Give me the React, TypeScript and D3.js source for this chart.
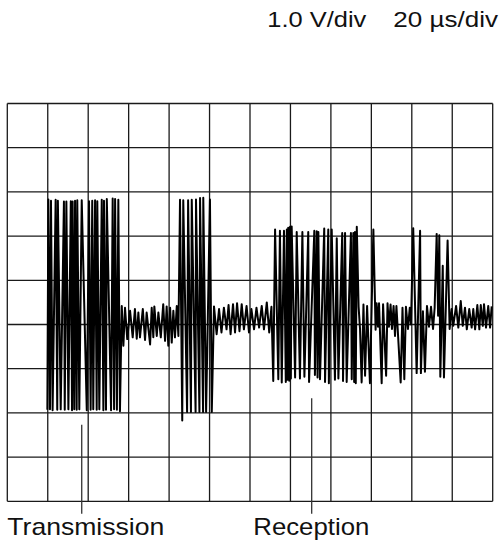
import { useEffect, useRef } from 'react';
import * as d3 from 'd3';

// screen divisions: 20 µs/div horizontally, 1.0 V/div vertically
const TIME_DIVS = [0, 20, 40, 60, 80, 100, 120, 140, 160, 180, 200, 220, 240];
const VOLT_DIVS = [5, 4, 3, 2, 1, 0, -1, -2, -3, -4];

// trace pieces, [µs, V]
const burstTx1: [number, number][] = [
  [19.8, -1.93], [20.3, 2.83], [21.1, -1.92], [21.6, 2.8], [22.4, -1.94], [23.9, 2.82],
  [24.7, -1.93], [25.0, 2.8], [26.4, -1.92], [28.0, 2.78], [28.4, -1.93], [29.2, 2.78],
  [30.2, -1.92], [31.4, 2.79], [32.0, -1.94], [32.3, 2.78], [33.1, -1.92], [33.5, 2.8],
  [34.3, -1.93], [34.6, 2.81], [35.6, -1.92], [36.8, 2.81], [39.3, -1.94], [40.4, 2.79],
  [41.2, -1.93], [42.0, 2.8], [42.5, -1.92], [43.4, 2.81], [44.2, -1.93], [44.5, 2.79],
  [45.5, -1.92], [46.7, 2.82], [47.5, -1.94], [47.8, 2.8], [48.8, -1.93], [49.2, 2.84],
  [51.3, -1.94], [52.1, 2.85], [52.8, -1.92], [53.3, 2.84], [54.2, -1.93], [54.9, 2.82],
  [55.7, -1.96],
];

const noiseGap1: [number, number][] = [
  [56.6, 0.42], [57.4, -0.48], [58.2, 0.38], [59.3, -0.33], [60.7, 0.31], [62.0, -0.29],
  [63.1, 0.35], [64.0, -0.32], [64.8, 0.27], [65.6, -0.29], [67.0, 0.35], [68.1, -0.35],
  [68.9, 0.27], [70.6, -0.45], [71.4, 0.38], [72.2, -0.29], [72.7, 0.41], [73.9, -0.26],
  [74.7, 0.27], [75.9, -0.29], [77.1, 0.46], [78.0, -0.37], [78.8, 0.41], [79.6, -0.48],
  [80.5, 0.38], [81.3, -0.41], [82.1, 0.31], [82.9, -0.29], [83.8, 0.42], [84.6, -0.26],
];

const burstTx2: [number, number][] = [
  [85.4, 2.82], [86.5, -2.17], [87.0, 2.81], [88.9, -1.98], [89.4, 2.81], [90.8, -1.98],
  [91.2, 2.82], [93.1, -1.98], [93.3, 2.83], [95.0, -1.98], [95.3, 2.86], [96.8, -1.98],
  [96.9, 2.87], [98.3, -1.98], [100.2, 2.83], [101.1, -1.98],
];

const noiseGap2: [number, number][] = [
  [102.2, 0.41], [103.5, -0.22], [104.7, 0.35], [105.9, -0.18], [107.1, 0.38], [108.4, -0.11],
  [109.4, 0.44], [110.4, -0.22], [111.6, 0.46], [112.6, -0.18], [113.6, 0.48], [114.8, -0.15],
  [115.9, 0.46], [117.0, -0.11], [118.3, 0.42], [119.5, -0.18], [120.7, 0.35], [122.0, -0.11],
  [123.2, 0.38], [124.5, -0.07], [125.8, 0.42], [126.9, -0.11], [128.3, 0.5], [129.5, -0.18],
  [130.6, 0.4],
];

const burstRx: [number, number][] = [
  [131.5, -1.28], [132.4, 2.15], [134.0, -1.24], [134.8, 2.12], [135.7, -1.31], [136.8, 2.12],
  [137.7, -1.3], [138.2, 2.15], [138.5, -1.25], [138.9, 2.19], [139.4, -1.27], [139.8, 2.21],
  [140.2, -1.22], [140.6, 2.22], [142.3, -1.2], [143.1, 2.09], [144.7, -1.22], [145.9, 2.09],
  [146.9, -1.18], [148.8, 2.09], [149.2, -1.3], [151.8, 2.12], [152.1, -1.14], [153.0, 2.11],
  [153.4, -1.2], [153.8, 2.09], [154.6, -1.24], [156.7, 2.17], [157.1, -1.3], [158.7, 2.15],
  [159.0, -1.33], [160.4, 2.15], [162.0, -1.25], [162.9, 1.95], [163.7, -1.22], [165.6, 2.07],
  [166.0, -1.28], [167.0, 2.07], [167.8, -1.3], [169.9, 2.07], [170.3, -1.24], [171.1, 2.07],
  [171.5, -1.3], [171.9, 2.09], [172.3, -1.33], [172.8, 2.21],
];

const tailRx: [number, number][] = [
  [173.7, 0.4], [174.4, -0.1], [175.2, -1.31], [176.1, 0.45], [176.9, -1.16], [177.9, 0.42],
  [179.3, -1.33], [180.1, 0.3], [181.0, 2.15], [182.1, -0.12], [182.6, 0.48], [183.3, -0.05],
  [183.8, 0.48], [185.1, -1.33], [185.8, 0.46], [187.3, -1.16], [188.0, 0.48], [188.7, -0.05],
  [189.5, 0.45], [190.2, -0.1], [191.0, 0.42], [191.7, -0.26], [192.4, 0.42], [194.5, -1.31],
  [195.4, 0.38], [196.3, -1.24], [197.1, 0.4], [198.1, -0.1], [199.0, 0.38], [199.6, 0.0],
  [200.7, 2.18], [202.4, -1.1], [204.1, 2.12], [204.5, -1.1], [205.5, 0.3], [206.5, -1.07],
  [207.5, 0.42], [208.5, -0.05], [209.5, 0.4], [210.5, -0.1], [211.3, 0.38], [212.3, 2.05],
  [213.0, 0.2], [213.6, 2.02], [214.1, -1.18], [215.3, 1.33], [215.9, -1.2], [217.7, 1.9],
  [218.7, -0.1], [219.7, 0.35], [220.5, -0.03], [221.9, 0.42], [223.0, -0.07], [224.2, 0.53],
  [225.2, -0.03], [226.3, 0.38], [227.2, -0.11], [228.4, 0.35], [229.6, -0.07], [230.4, 0.35],
  [231.3, -0.11], [232.4, 0.44], [233.4, -0.11], [234.1, 0.44], [235.1, -0.03], [235.7, 0.46],
  [236.7, -0.07], [237.8, 0.42], [238.7, -0.07], [239.5, 0.41],
];

// callouts: label, time it points at, voltage where the pointer starts
const callouts = [
  { label: 'Transmission', t: 36.8, v: -2.27, textX: 7.3, textLen: 157 },
  { label: 'Reception', t: 150.5, v: -1.67, textX: 253.3, textLen: 116 },
];

const W = 501;
const H = 544;

export default function App() {
  const ref = useRef<SVGSVGElement | null>(null);

  useEffect(() => {
    if (!ref.current) return;
    const svg = d3.select(ref.current);
    svg.selectAll('*').remove();

    const x = d3.scaleLinear().domain([0, 240]).range([7.3, 492.7]);
    const y = d3.scaleLinear().domain([5, -4]).range([103.5, 501.3]);

    const grid = svg.append('g').attr('stroke', '#1a1a1a').attr('stroke-width', 1.3);
    grid
      .selectAll('line.v')
      .data(TIME_DIVS)
      .enter()
      .append('line')
      .attr('x1', (d) => x(d))
      .attr('x2', (d) => x(d))
      .attr('y1', y(5))
      .attr('y2', y(-4));
    grid
      .selectAll('line.h')
      .data(VOLT_DIVS)
      .enter()
      .append('line')
      .attr('x1', x(0))
      .attr('x2', x(240))
      .attr('y1', (d) => y(d))
      .attr('y2', (d) => y(d));

    const trace = [...burstTx1, ...noiseGap1, ...burstTx2, ...noiseGap2, ...burstRx, ...tailRx];
    const line = d3
      .line<[number, number]>()
      .x((d) => x(d[0]))
      .y((d) => y(d[1]));

    svg
      .append('path')
      .attr('d', line(trace))
      .attr('fill', 'none')
      .attr('stroke', '#000')
      .attr('stroke-width', 2)
      .attr('stroke-linejoin', 'round');

    const font = 'Liberation Sans, Arial, sans-serif';

    callouts.forEach((c) => {
      svg
        .append('line')
        .attr('x1', x(c.t))
        .attr('x2', x(c.t))
        .attr('y1', y(c.v))
        .attr('y2', y(-4) + 12.5)
        .attr('stroke', '#333')
        .attr('stroke-width', 1.3);
      svg
        .append('text')
        .attr('x', c.textX)
        .attr('y', 535)
        .attr('font-family', font)
        .attr('font-size', 24)
        .attr('textLength', c.textLen)
        .attr('lengthAdjust', 'spacingAndGlyphs')
        .attr('fill', '#111')
        .text(c.label);
    });

    svg
      .append('text')
      .attr('x', 267.3)
      .attr('y', 27)
      .attr('font-family', font)
      .attr('font-size', 22)
      .attr('textLength', 99)
      .attr('lengthAdjust', 'spacingAndGlyphs')
      .attr('fill', '#111')
      .text('1.0 V/div');
    svg
      .append('text')
      .attr('x', 393.3)
      .attr('y', 27)
      .attr('font-family', font)
      .attr('font-size', 22)
      .attr('textLength', 104.7)
      .attr('lengthAdjust', 'spacingAndGlyphs')
      .attr('fill', '#111')
      .text('20 µs/div');
  }, []);

  return (
    <svg
      ref={ref}
      width={W}
      height={H}
      style={{ position: 'absolute', left: 0, top: 0, background: '#fff' }}
    />
  );
}
